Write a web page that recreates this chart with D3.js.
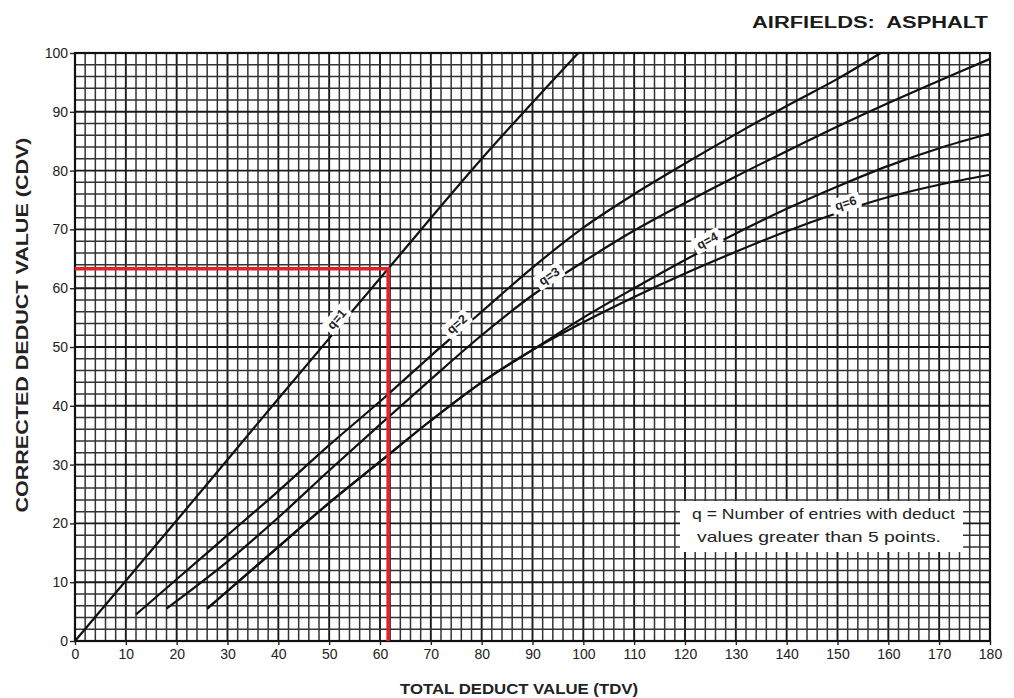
<!DOCTYPE html>
<html>
<head>
<meta charset="utf-8">
<script src="https://cdn.jsdelivr.net/npm/d3@7"></script>
<style>
  html, body { margin: 0; padding: 0; background: #fff; }
  svg { display: block; font-family: "Liberation Sans", Arial, sans-serif; }
</style>
</head>
<body>
<svg id="chart" width="1014" height="698"></svg>
<script>
// ---- data ----
const xTicks = [0,10,20,30,40,50,60,70,80,90,100,110,120,130,140,150,160,170,180];
const yTicks = [0,10,20,30,40,50,60,70,80,90,100];

const q1 = [[0,0],[20,20.5],[40,41.2],[61.6,63.3],[80,82],[99,100]];
const q2 = [[12,4.5],[20,10.5],[30,18],[40,25.5],[50,33.3],[61,41.5],[70,48.5],[80,56],[90,63.5],[100,70.3],[110,76],[120,81.2],[130,86.2],[140,91],[150,95.6],[158.5,100]];
const q3 = [[18,5.5],[30,13.5],[40,21],[50,29],[60,36.8],[70,44.5],[80,52],[90,58.8],[100,64.5],[110,69.8],[120,74.5],[130,79],[140,83.3],[150,87.5],[160,91.5],[170,95.3],[180,99]];
const q4 = [[26,5.5],[30,8.5],[40,16],[50,23.5],[60,30.5],[70,37.5],[80,44],[90,49.5],[100,55],[110,60],[120,64.8],[130,69.3],[140,73.5],[150,77.3],[160,80.8],[170,83.8],[180,86.3]];
const q6 = [[26,5.5],[30,8.5],[40,16],[50,23.5],[60,30.5],[70,37.5],[80,44],[90,49.5],[100,54.2],[110,58.5],[120,62.5],[130,66.2],[140,69.7],[150,72.8],[160,75.5],[170,77.6],[180,79.3]];

const curveNames = ["q=1","q=2","q=3","q=4","q=6"];
const curveSeries = [q1, q2, q3, q4, q6];
const labelAtX = [52.5, 76, 94, 125, 152];

const exampleTDV = 61.6;
const exampleCDV = 63.3;

const titleText = "AIRFIELDS:  ASPHALT";
const xTitle = "TOTAL DEDUCT VALUE (TDV)";
const yTitle = "CORRECTED DEDUCT VALUE (CDV)";
const noteLines = ["q = Number of entries with deduct", "values greater than 5 points."];

// ---- layout ----
const svg = d3.select("#chart");
const L = 75, R = 990, T = 53, B = 641;
const x = d3.scaleLinear().domain([0,180]).range([L,R]);
const y = d3.scaleLinear().domain([0,100]).range([B,T]);

// grid
const g = svg.append("g");
const xs = d3.range(0,181,2), ys = d3.range(0,101,2);
g.selectAll("line.vx").data(xs).join("line")
  .attr("x1", d=>x(d)).attr("x2", d=>x(d)).attr("y1", T).attr("y2", B)
  .attr("stroke", d => d%10===0 ? "#1a1a1a" : "#333")
  .attr("stroke-width", d => d%10===0 ? 1.9 : 1.5);
g.selectAll("line.hy").data(ys).join("line")
  .attr("y1", d=>y(d)).attr("y2", d=>y(d)).attr("x1", L).attr("x2", R)
  .attr("stroke", d => d%10===0 ? "#1a1a1a" : "#333")
  .attr("stroke-width", d => d%10===0 ? 1.9 : 1.5);

// border
svg.append("rect").attr("x",L).attr("y",T).attr("width",R-L).attr("height",B-T)
  .attr("fill","none").attr("stroke","#111").attr("stroke-width",2.2);

// axes
const xAxis = d3.axisBottom(x).tickValues(xTicks).tickSize(4).tickPadding(4);
const yAxis = d3.axisLeft(y).tickValues(yTicks).tickSize(5).tickPadding(2);
const ax = svg.append("g").attr("transform",`translate(0,${B})`).call(xAxis);
const ay = svg.append("g").attr("transform",`translate(${L},0)`).call(yAxis);
[ax, ay].forEach(a => {
  a.select(".domain").remove();
  a.selectAll("line").attr("stroke","#222").attr("stroke-width",1.4);
  a.selectAll("text").attr("fill","#222").style("font-size","14px")
    .style("font-family","'Liberation Sans', Arial, sans-serif");
});

// legend note box
const nb = svg.append("g");
nb.append("rect").attr("x",680).attr("y",501).attr("width",283).attr("height",51).attr("fill","#fff");
nb.selectAll("text").data(noteLines).join("text")
  .attr("x",(d,i)=> i===0 ? 692 : 697).attr("y",(d,i)=> 519 + i*23)
  .attr("textLength",(d,i)=> i===0 ? 263 : 244).attr("lengthAdjust","spacingAndGlyphs")
  .attr("fill","#222").style("font-size","15px").text(d=>d);

// curves
const line = d3.line().x(d=>x(d[0])).y(d=>y(d[1])).curve(d3.curveCatmullRom.alpha(0.5));
svg.append("g").selectAll("path").data(curveSeries).join("path")
  .attr("d", line).attr("fill","none").attr("stroke","#111").attr("stroke-width",2.2);

// curve labels
function valueAt(series, xv) {
  for (let i=0;i<series.length-1;i++){
    const a=series[i], b=series[i+1];
    if (xv>=a[0] && xv<=b[0]) { const t=(xv-a[0])/(b[0]-a[0]); return a[1]+t*(b[1]-a[1]); }
  }
  return series[series.length-1][1];
}
curveNames.forEach((name,i) => {
  const s = curveSeries[i], xv = labelAtX[i];
  const px = x(xv), py = y(valueAt(s,xv));
  const px2 = x(xv+2), py2 = y(valueAt(s,xv+2));
  const ang = Math.atan2(py2-py, px2-px)*180/Math.PI;
  const gl = svg.append("g").attr("transform",`translate(${px},${py}) rotate(${ang}) translate(0,-7)`);
  const txt = gl.append("text").attr("text-anchor","middle").attr("dy","0.35em")
    .style("font-size","12.5px").style("font-weight","bold").attr("fill","#222").text(name);
  const bb = txt.node().getBBox();
  gl.insert("rect","text").attr("x",bb.x-4).attr("y",bb.y-1).attr("width",bb.width+8).attr("height",bb.height+2)
    .attr("fill","#fff").attr("rx",2);
});

// red example lines
svg.append("path")
  .attr("d", `M${x(0)},${y(exampleCDV)}H${x(exampleTDV)}V${y(0)}`)
  .attr("fill","none").attr("stroke","#e3212b").attr("stroke-width",3.5);

// titles
svg.append("text").attr("x",988).attr("y",28).attr("text-anchor","end")
  .attr("textLength",236).attr("lengthAdjust","spacingAndGlyphs")
  .style("font-size","16px").style("font-weight","bold").attr("fill","#1a1a1a")
  .attr("xml:space","preserve").style("white-space","pre").text(titleText);
svg.append("text").attr("x",519).attr("y",694).attr("text-anchor","middle")
  .attr("textLength",238).attr("lengthAdjust","spacingAndGlyphs")
  .style("font-size","15px").style("font-weight","bold").attr("fill","#222").text(xTitle);
svg.append("text").attr("transform",`translate(28,325) rotate(-90)`).attr("text-anchor","middle")
  .attr("textLength",375).attr("lengthAdjust","spacingAndGlyphs")
  .style("font-size","16px").style("font-weight","bold").attr("fill","#222").text(yTitle);
</script>
</body>
</html>
